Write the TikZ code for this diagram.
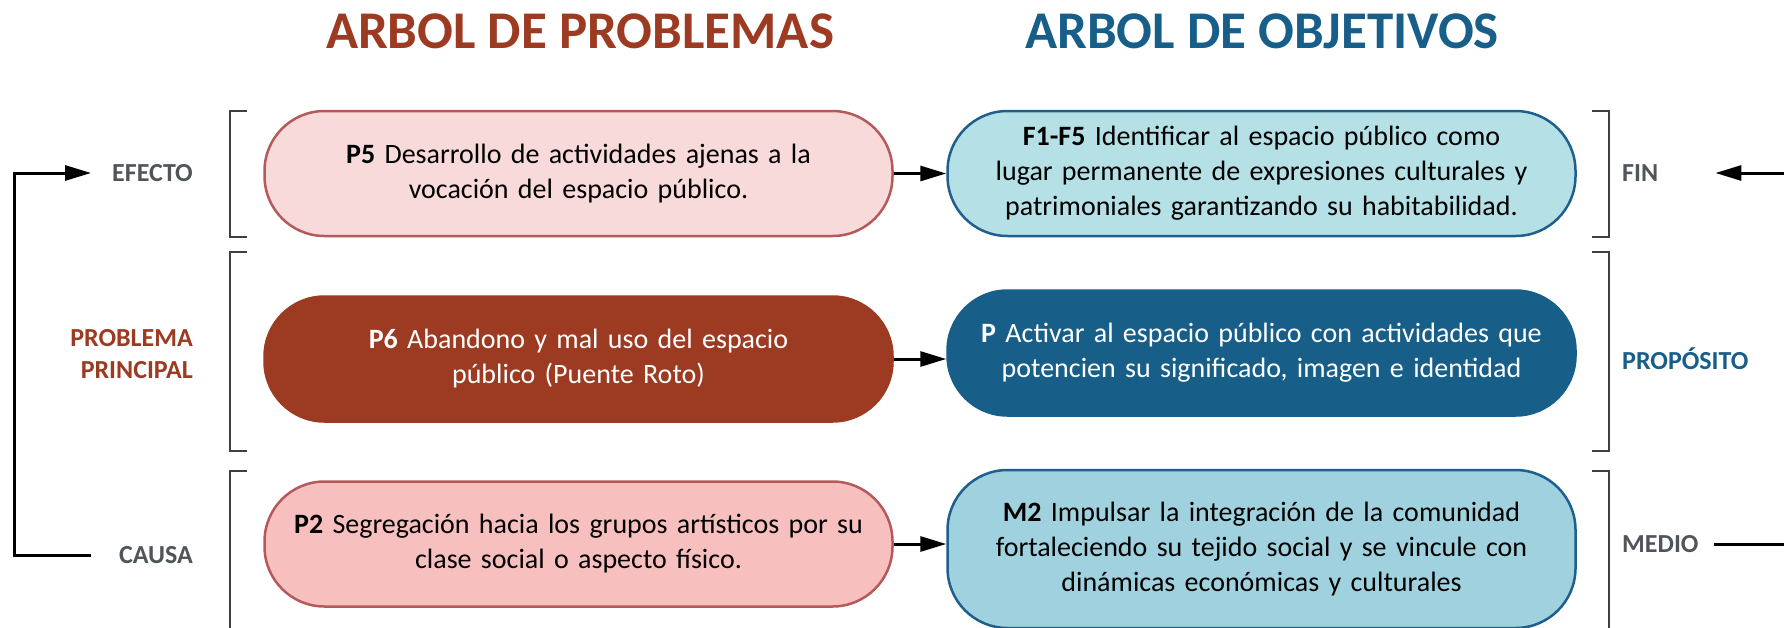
\documentclass[tikz,border=0pt]{standalone}
\usepackage{fontspec}
\setmainfont{Carlito}
\usetikzlibrary{arrows.meta}
\definecolor{rust}{HTML}{9C3A22}
\definecolor{azul}{HTML}{175E89}
\definecolor{azulborde}{HTML}{1F5F8E}
\definecolor{rosa}{HTML}{F9DADA}
\definecolor{rosados}{HTML}{F8BFBF}
\definecolor{rosaborde}{HTML}{B55A5A}
\definecolor{celeste}{HTML}{B5E0E6}
\definecolor{celestedos}{HTML}{9FD2DE}
\definecolor{gris}{HTML}{50555A}
\begin{document}
\begin{tikzpicture}[x=1pt, y=-1pt,
    caja/.style={rectangle, rounded corners=60pt, line width=2.5pt, minimum width=628pt,
      minimum height=125pt, text width=600pt, align=center, inner sep=0pt,
      font=\fontsize{28}{35}\selectfont},
    lado/.style={inner sep=0pt, font=\fontsize{26}{32}\selectfont\bfseries},
    titulo/.style={font=\fontsize{53}{60}\selectfont\bfseries},
    corchete/.style={line width=1.5pt, draw=black!75},
    flecha/.style={-{Triangle[length=26pt,width=15pt]}, line width=3pt},
    lazo/.style={line width=3pt}]
    \useasboundingbox (0,0) rectangle (1784,627);

    \node[titulo, text=rust] (tprob) at (580,31) {ARBOL DE PROBLEMAS};
    \node[titulo, text=azul] (tobj) at (1262,31) {ARBOL DE OBJETIVOS};

    % arbol de problemas
    \node[caja, fill=rosa, draw=rosaborde] (p5) at (578.5,173.5)
      {\textbf{P5} Desarrollo de actividades ajenas a la\\vocación del espacio público.};
    \node[caja, fill=rust, draw=rust, text=white] (p6) at (578.5,359)
      {\textbf{P6} Abandono y mal uso del espacio\\público (Puente Roto)};
    \node[caja, fill=rosados, draw=rosaborde] (p2) at (578.5,544)
      {\textbf{P2} Segregación hacia los grupos artísticos por su\\clase social o aspecto físico.};

    % arbol de objetivos
    \node[caja, fill=celeste, draw=azulborde] (f1) at (1261.5,173.5)
      {\textbf{F1-F5} Identificar al espacio público como\\lugar permanente de expresiones culturales y\\patrimoniales garantizando su habitabilidad.};
    \node[caja, fill=azul, draw=azul, text=white] (pp) at (1261.5,353)
      {\textbf{P} Activar al espacio público con actividades que\\potencien su significado, imagen e identidad};
    \node[caja, fill=celestedos, draw=azulborde, minimum height=158pt] (m2) at (1261.5,549)
      {\textbf{M2} Impulsar la integración de la comunidad\\fortaleciendo su tejido social y se vincule con\\dinámicas económicas y culturales};

    % etiquetas
    \node[lado, anchor=east, text=gris] (efecto) at (193,173) {EFECTO};
    \node[lado, anchor=east, text=rust, align=right] (probp) at (193,354) {PROBLEMA\\PRINCIPAL};
    \node[lado, anchor=east, text=gris] (causa) at (193,555) {CAUSA};
    \node[lado, anchor=west, text=gris] (fin) at (1622,173) {FIN};
    \node[lado, anchor=west, text=azul] (prop) at (1622,359) {PROPÓSITO};
    \node[lado, anchor=west, text=gris] (medio) at (1622,544) {MEDIO};

    % corchetes
    \draw[corchete] (247,111) -- (230,111) -- (230,237) -- (247,237);
    \draw[corchete] (247,252) -- (230,252) -- (230,451) -- (247,451);
    \draw[corchete] (247,471) -- (230,471) -- (230,640);
    \draw[corchete] (1592,111) -- (1609,111) -- (1609,237) -- (1592,237);
    \draw[corchete] (1592,252) -- (1609,252) -- (1609,451) -- (1592,451);
    \draw[corchete] (1592,471) -- (1609,471) -- (1609,640);

    \draw[flecha] (p5) -- (f1);
    \draw[flecha] (p6.east) -- (p6.east -| pp.west);
    \draw[flecha] (p2.east) -- (p2.east -| m2.west);

    \coordinate (izq) at (14.5,0);
    \coordinate (der) at (1795,0);
    \draw[flecha] ([xshift=-28pt]causa.west) -| (izq |- efecto) -- ([xshift=-21pt]efecto.west);
    \draw[flecha] ([xshift=15pt]medio.east) -| (der |- fin) -- ([xshift=57pt]fin.east);
\end{tikzpicture}
\end{document}
